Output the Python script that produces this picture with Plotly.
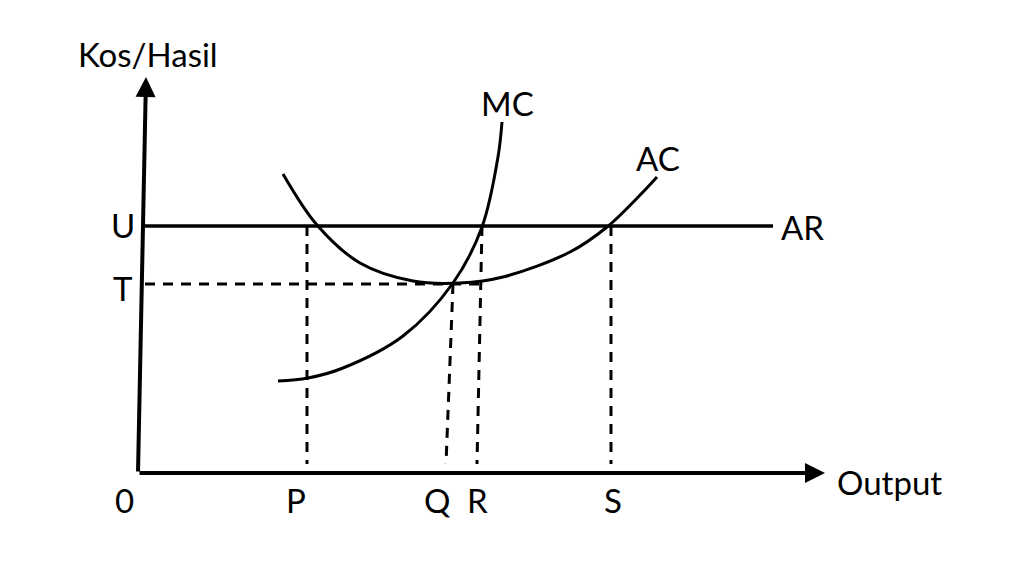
import plotly.graph_objects as go

# ---- data (conceptual units: output on x, cost/revenue on y) ----
mc_x = [140, 170, 205, 265, 315, 344, 360, 364]
mc_y = [92, 95, 105, 137, 190, 246, 316, 351]

ac_x = [145, 179, 222, 275, 322, 365, 432, 469, 505, 519]
ac_y = [299, 248, 210, 192, 190, 196, 221, 246, 281, 296]

U_level = 247   # AR = price
T_level = 189   # minimum AC
ar_x = [7, 635]

# output markers (top x, bottom x) for the dashed guides
P_pos = (169, 169)
Q_pos = (315, 308)
R_pos = (344, 339)
S_pos = (473, 473)

x_tick_labels = ["0", "P", "Q", "R", "S"]
x_tick_pos = [-14, 158, 299, 339, 475]
y_tick_labels = ["U", "T"]
y_tick_pos = [U_level + 1, T_level - 4]

FONT = "Lato"
FS = 33
BLACK = "#000000"

fig = go.Figure()

# MC and AC curves
fig.add_trace(go.Scatter(x=mc_x, y=mc_y, mode="lines", line=dict(color=BLACK, width=3, shape="spline", smoothing=1.0),
                         hoverinfo="skip", showlegend=False))
fig.add_trace(go.Scatter(x=ac_x, y=ac_y, mode="lines", line=dict(color=BLACK, width=3, shape="spline", smoothing=1.0),
                         hoverinfo="skip", showlegend=False))
# AR line
fig.add_trace(go.Scatter(x=ar_x, y=[U_level, U_level], mode="lines", line=dict(color=BLACK, width=3.5),
                         hoverinfo="skip", showlegend=False))
# T dashed line
fig.add_trace(go.Scatter(x=[7, R_pos[0]], y=[T_level, T_level], mode="lines",
                         line=dict(color=BLACK, width=3, dash="10px,8px"), hoverinfo="skip", showlegend=False))
# vertical dashed guides
for (top_x, bot_x), top_y in [(P_pos, U_level), (Q_pos, T_level), (R_pos, U_level), (S_pos, U_level)]:
    fig.add_trace(go.Scatter(x=[top_x, bot_x], y=[top_y, 9], mode="lines",
                             line=dict(color=BLACK, width=3, dash="10px,8px"), hoverinfo="skip", showlegend=False))

# axes with arrows
fig.add_annotation(x=8, y=396, ax=0, ay=0, xref="x", yref="y", axref="x", ayref="y",
                   showarrow=True, arrowhead=2, arrowsize=1, arrowwidth=4, arrowcolor=BLACK, text="")
fig.add_annotation(x=687, y=0, ax=0, ay=0, xref="x", yref="y", axref="x", ayref="y",
                   showarrow=True, arrowhead=2, arrowsize=1, arrowwidth=4, arrowcolor=BLACK, text="")

# text labels
def label(x, y, t, xanchor="center"):
    fig.add_annotation(x=x, y=y, text=t, showarrow=False, xref="x", yref="y", xanchor=xanchor, yanchor="middle",
                       font=dict(family=FONT, size=FS, color=BLACK))

label(10, 419, "Kos/Hasil")
label(751, -9, "Output")
label(369, 370, "MC")
label(520, 315, "AC")
label(664, 246, "AR")
for t, xp in zip(x_tick_labels, x_tick_pos):
    label(xp, -27, t)
for t, yp in zip(y_tick_labels, y_tick_pos):
    label(-15, yp, t)

fig.update_xaxes(range=[-130, 894], visible=False, fixedrange=True)
fig.update_yaxes(range=[-119, 465], visible=False, fixedrange=True)
fig.update_layout(width=1024, height=584, margin=dict(l=0, r=0, t=0, b=0),
                  plot_bgcolor="white", paper_bgcolor="white", showlegend=False)

fig.write_html("out.html")
